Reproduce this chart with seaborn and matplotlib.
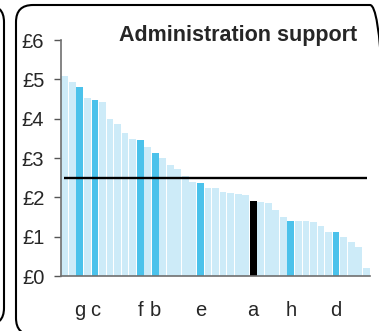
import pandas as pd
import matplotlib.pyplot as plt
import seaborn as sns
from matplotlib.patches import FancyBboxPatch
from matplotlib.transforms import IdentityTransform

# cost per unit, sorted high to low (one bar per organisation)
values = [5.08, 4.93, 4.81, 4.53, 4.47, 4.42, 3.99, 3.86, 3.64, 3.48,
          3.46, 3.28, 3.13, 3.00, 2.82, 2.72, 2.54, 2.39, 2.36, 2.24,
          2.24, 2.14, 2.11, 2.08, 2.06, 1.91, 1.88, 1.86, 1.68, 1.50,
          1.40, 1.40, 1.40, 1.37, 1.27, 1.12, 1.12, 0.99, 0.86, 0.74,
          0.20]
named = ['g', 'c', 'f', 'b', 'e', 'a', 'h', 'd']
named_rank = [2, 4, 10, 12, 18, 25, 30, 36]
own = 'a'
average = 2.5
y_ticks = [0, 1, 2, 3, 4, 5, 6]
y_labels = ['£0', '£1', '£2', '£3', '£4', '£5', '£6']
title = 'Administration support'

group = ['other'] * len(values)
for name, r in zip(named, named_rank):
    group[r] = 'own' if name == own else 'peer'
df = pd.DataFrame({'rank': range(len(values)), 'cost': values, 'group': group})

sns.set_style('white')
plt.rcParams['font.family'] = ['Liberation Sans', 'DejaVu Sans']

fig = plt.figure(figsize=(3.79, 3.31), dpi=100)
ax = fig.add_axes([61 / 379, 55 / 331, 309 / 379, 236 / 331])

palette = {'other': '#cdebf8', 'peer': '#4bc2eb', 'own': '#000000'}
sns.barplot(data=df, x='rank', y='cost', hue='group', palette=palette,
            dodge=False, width=0.9, linewidth=0, saturation=1,
            legend=False, ax=ax)

ax.hlines(average, -0.1, len(values) - 0.9, color='black', lw=1.7, zorder=5)

ax.set_xlim(-0.5, len(values) - 0.5)
ax.set_ylim(0, 6)
ax.set_yticks(y_ticks)
ax.set_yticklabels(y_labels, fontsize=14.5)
ax.set_xticks(named_rank)
ax.set_xticklabels(named, fontsize=14.5)
ax.tick_params(axis='y', left=True, length=5, width=1, color='#555555', pad=7)
ax.tick_params(axis='x', bottom=False, length=0, pad=18)
ax.set_xlabel('')
ax.set_ylabel('')
sns.despine(ax=ax)
for side in ['left', 'bottom']:
    ax.spines[side].set_color('#707070')
    ax.spines[side].set_linewidth(1.2)

fig.text(357 / 379, 1 - 35 / 331, title, ha='right', va='center',
         fontsize=15.5, fontweight='bold')

# rounded panel frames (this one and the edge of the neighbour on the left)
for x0, x1, top, bottom in [(16, 387, 5, 335), (-300, 4, 5, 325)]:
    box = FancyBboxPatch((x0, 331 - bottom), x1 - x0, bottom - top,
                         boxstyle='round,pad=0,rounding_size=17',
                         transform=IdentityTransform(), fill=False,
                         edgecolor='black', lw=1.5, clip_on=False)
    fig.add_artist(box)

fig.savefig('out.png', dpi=100)
